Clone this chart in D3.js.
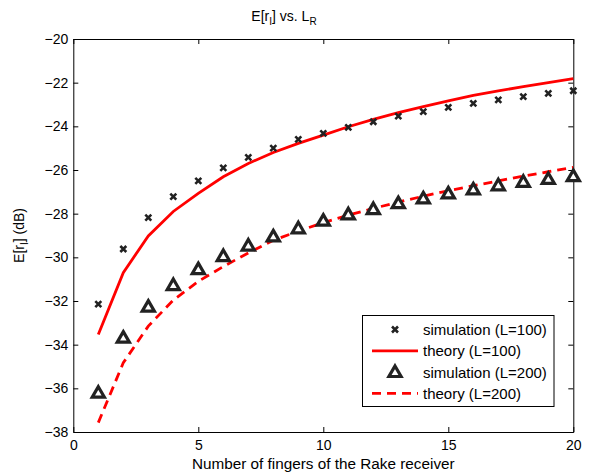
<!DOCTYPE html>
<html><head><meta charset="utf-8">
<script src="https://cdn.jsdelivr.net/npm/d3@7"></script>
<style>body{margin:0;background:#fff}svg{display:block}text{font-family:"Liberation Sans",Arial,Helvetica,sans-serif;fill:#000}</style>
</head><body>
<svg id="c" width="596" height="475"></svg>
<script>
const fingers = [1,2,3,4,5,6,7,8,9,10,11,12,13,14,15,16,17,18,19,20];
const simL100 = [-32.14,-29.62,-28.18,-27.22,-26.5,-25.9,-25.42,-25.0,-24.6,-24.32,-24.05,-23.79,-23.53,-23.33,-23.13,-22.95,-22.79,-22.64,-22.49,-22.37];
const theoryL100 = [-33.53,-30.7,-29.02,-27.9,-27.07,-26.31,-25.7,-25.2,-24.78,-24.4,-24.02,-23.68,-23.37,-23.1,-22.83,-22.58,-22.38,-22.18,-22.0,-21.81];
const simL200 = [-36.2,-33.68,-32.26,-31.27,-30.54,-29.94,-29.46,-29.04,-28.67,-28.32,-28.03,-27.79,-27.52,-27.3,-27.07,-26.89,-26.7,-26.54,-26.41,-26.28];
const theoryL200 = [-37.57,-34.83,-33.15,-31.96,-31.1,-30.42,-29.8,-29.22,-28.8,-28.41,-28.07,-27.76,-27.47,-27.2,-26.95,-26.72,-26.5,-26.28,-26.08,-25.88];
const xTicks = [0,5,10,15,20];
const yTicks = [-38,-36,-34,-32,-30,-28,-26,-24,-22,-20];
const legendLabels = ["simulation (L=100)","theory (L=100)","simulation (L=200)","theory (L=200)"];

const svg = d3.select("#c");
const L = 73.3, R = 573.3, T = 39, B = 432;
const x = d3.scaleLinear().domain([0,20]).range([L,R]);
const y = d3.scaleLinear().domain([-38,-20]).range([B,T]);
const fmt = d => d < 0 ? "\u2212" + Math.abs(d) : String(d);

const ax = (g, gen) => { g.call(gen); g.selectAll("path.domain").attr("stroke","#000").attr("stroke-width",1); g.selectAll(".tick line").attr("stroke","#000"); g.selectAll("text").style("font-size","14px").attr("font-family",null); };
svg.append("g").attr("transform",`translate(0,${B})`).call(g=>ax(g,d3.axisBottom(x).tickValues(xTicks).tickFormat(fmt).tickSizeInner(-5).tickSizeOuter(0).tickPadding(8)));
svg.append("g").attr("transform",`translate(0,${T})`).call(g=>ax(g,d3.axisTop(x).tickValues(xTicks).tickFormat("").tickSizeInner(-5).tickSizeOuter(0)));
svg.append("g").attr("transform",`translate(${L},0)`).call(g=>ax(g,d3.axisLeft(y).tickValues(yTicks).tickFormat(fmt).tickSizeInner(-5).tickSizeOuter(0).tickPadding(5)));
svg.append("g").attr("transform",`translate(${R},0)`).call(g=>ax(g,d3.axisRight(y).tickValues(yTicks).tickFormat("").tickSizeInner(-5).tickSizeOuter(0)));

const line = d3.line().x((d,i)=>x(fingers[i])).y(d=>y(d));
svg.append("path").datum(theoryL100).attr("d",line).attr("fill","none").attr("stroke","#ff0000").attr("stroke-width",2.8);
svg.append("path").datum(theoryL200).attr("d",line).attr("fill","none").attr("stroke","#ff0000").attr("stroke-width",2.8).attr("stroke-dasharray","9,6");

const xMark = "M-3,-3L3,3M-3,3L3,-3";
const tri = d3.symbol().type(d3.symbolTriangle).size(64);
function drawX(g){ g.append("path").attr("d",xMark).attr("stroke","#222").attr("stroke-width",2.6).attr("fill","none"); }
function drawTri(g){ g.append("path").attr("d",tri()).attr("transform","translate(0,1)").attr("fill","#fff").attr("stroke","#222").attr("stroke-width",3.2).attr("stroke-linejoin","miter"); }

svg.append("g").selectAll("g").data(simL100).join("g").attr("transform",(d,i)=>`translate(${x(fingers[i])},${y(d)})`).each(function(){drawX(d3.select(this));});
svg.append("g").selectAll("g").data(simL200).join("g").attr("transform",(d,i)=>`translate(${x(fingers[i])},${y(d)})`).each(function(){drawTri(d3.select(this));});

const lg = svg.append("g");
lg.append("rect").attr("x",362.5).attr("y",315.5).attr("width",191.5).attr("height",91).attr("fill","#fff").attr("stroke","#000").attr("stroke-width",1);
const rows = [329.5,350.8,372,393.3];
legendLabels.forEach((t,i)=>{
  const ry = rows[i];
  const g = lg.append("g").attr("transform",`translate(395,${ry})`);
  if(i===0) drawX(g);
  if(i===2) drawTri(g);
  if(i===1) lg.append("line").attr("x1",372).attr("x2",418).attr("y1",ry).attr("y2",ry).attr("stroke","#ff0000").attr("stroke-width",2.8);
  if(i===3) lg.append("line").attr("x1",372).attr("x2",418).attr("y1",ry).attr("y2",ry).attr("stroke","#ff0000").attr("stroke-width",2.8).attr("stroke-dasharray","9,6");
  lg.append("text").attr("x",423).attr("y",ry+5.5).style("font-size","15px").text(t);
});

const title = svg.append("text").attr("x",284).attr("y",21).attr("text-anchor","middle").style("font-size","14px");
title.append("tspan").text("E[r");
title.append("tspan").attr("dy",4).style("font-size","10px").text("I");
title.append("tspan").attr("dy",-4).text("] vs. L");
title.append("tspan").attr("dy",4).style("font-size","10px").text("R");

svg.append("text").attr("x",(L+R)/2).attr("y",469).attr("text-anchor","middle").style("font-size","15.3px").text("Number of fingers of the Rake receiver");
const yl = svg.append("text").attr("transform",`translate(24,${(T+B)/2}) rotate(-90)`).attr("text-anchor","middle").style("font-size","14px");
yl.append("tspan").text("E[r");
yl.append("tspan").attr("dy",4).style("font-size","10px").text("I");
yl.append("tspan").attr("dy",-4).text("] (dB)");
</script>
</body></html>
